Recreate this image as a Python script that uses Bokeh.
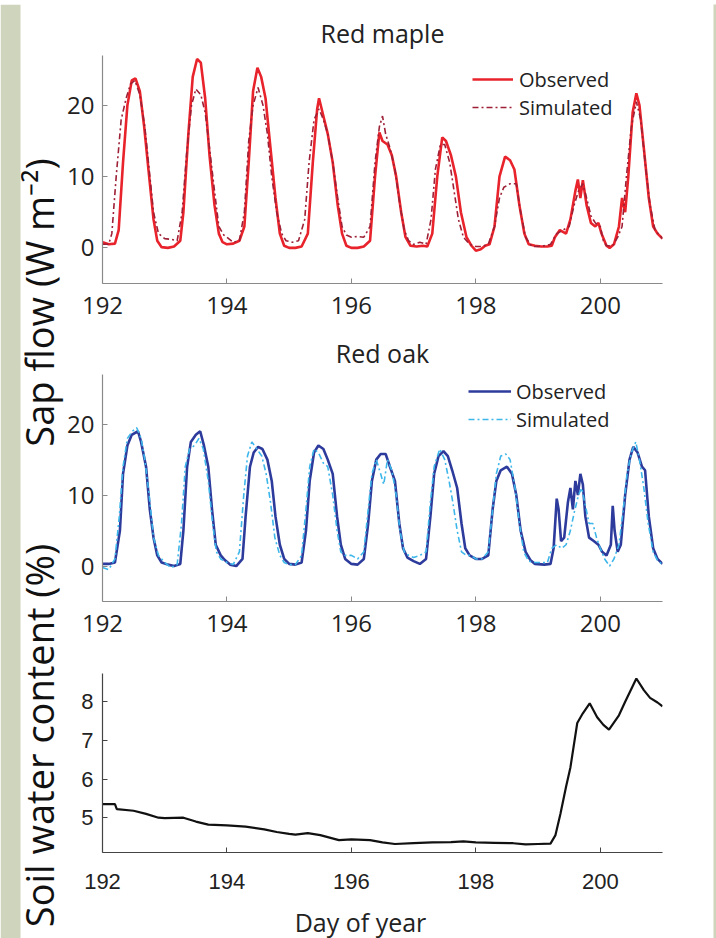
import math
from bokeh.plotting import figure
from bokeh.layouts import row, column
from bokeh.models import Range1d, FixedTicker, Legend, LegendItem, BoxAnnotation
from bokeh.core.properties import value
from bokeh.embed import file_html
from bokeh.resources import INLINE

# ---------------- data (day of year, value) ----------------
maple_observed = [
    (192.00, 0.8), (192.10, 0.5), (192.20, 0.6), (192.26, 2.5), (192.33, 12), (192.40, 20), (192.47, 23.5),
    (192.53, 23.8), (192.60, 22), (192.67, 17), (192.75, 10), (192.82, 4), (192.88, 1), (192.95, 0.1),
    (193.05, 0), (193.15, 0.2), (193.25, 1), (193.30, 5), (193.38, 16), (193.45, 24), (193.52, 26.5),
    (193.58, 26), (193.65, 21), (193.72, 13), (193.80, 6), (193.87, 2), (193.93, 0.8), (194.00, 0.5),
    (194.10, 0.6), (194.20, 1), (194.28, 3), (194.35, 12), (194.42, 22), (194.49, 25.3), (194.55, 24),
    (194.62, 21), (194.70, 14), (194.78, 7), (194.85, 2), (194.92, 0.3), (195.00, 0), (195.10, 0),
    (195.20, 0.2), (195.30, 2), (195.38, 12), (195.45, 19.5), (195.48, 21), (195.55, 18.5), (195.62, 16),
    (195.70, 12), (195.78, 6), (195.85, 2), (195.92, 0.3), (196.00, 0), (196.10, 0), (196.20, 0.2),
    (196.30, 1), (196.38, 10), (196.45, 16.2), (196.50, 15), (196.58, 14.5), (196.65, 13), (196.72, 10),
    (196.80, 5), (196.87, 1.5), (196.95, 0.3), (197.05, 0.2), (197.15, 0.3), (197.22, 0.2), (197.30, 2),
    (197.38, 10), (197.46, 15.5), (197.52, 15), (197.60, 13), (197.68, 10), (197.76, 5), (197.85, 1.5),
    (197.93, 0.3), (198.00, -0.4), (198.08, -0.2), (198.15, 0.3), (198.22, 0.5), (198.30, 3), (198.38, 10),
    (198.47, 12.8), (198.55, 12.3), (198.62, 11), (198.70, 6), (198.78, 2), (198.85, 0.5), (198.95, 0.3),
    (199.05, 0.2), (199.15, 0.2), (199.22, 0.3), (199.27, 1.5), (199.35, 2.5), (199.45, 2), (199.52, 4),
    (199.60, 8), (199.64, 9.6), (199.68, 7), (199.72, 9.5), (199.78, 6), (199.85, 3.5), (199.92, 3),
    (199.97, 3.5), (200.02, 2), (200.10, 0.3), (200.15, 0), (200.22, 0.5), (200.30, 3), (200.35, 7),
    (200.40, 5), (200.45, 10), (200.52, 19), (200.58, 21.7), (200.63, 20), (200.70, 14), (200.78, 7),
    (200.85, 3), (200.92, 2), (201.00, 1.3),
]

maple_simulated = [
    (192.00, 0.5), (192.10, 0.5), (192.15, 2), (192.22, 10), (192.30, 18), (192.38, 21), (192.45, 23),
    (192.52, 23.5), (192.60, 21.5), (192.68, 17), (192.75, 11), (192.82, 5), (192.90, 2), (193.00, 1.3),
    (193.10, 1.2), (193.20, 1), (193.28, 5), (193.35, 13), (193.43, 20), (193.50, 22.3), (193.58, 21.5),
    (193.65, 19), (193.72, 14), (193.80, 8), (193.87, 3), (193.95, 1.8), (194.00, 1.5), (194.10, 0.8),
    (194.20, 1), (194.28, 5), (194.35, 15), (194.42, 20), (194.50, 22.5), (194.58, 20), (194.65, 16),
    (194.72, 10), (194.80, 5), (194.88, 2), (194.95, 1), (195.05, 0.8), (195.15, 1), (195.25, 4),
    (195.32, 12), (195.40, 18), (195.48, 19.5), (195.55, 18), (195.62, 16), (195.70, 12), (195.78, 7),
    (195.85, 3), (195.92, 1.8), (196.00, 1.5), (196.10, 1.6), (196.20, 1.5), (196.30, 3), (196.38, 12),
    (196.45, 17), (196.50, 18.5), (196.55, 16), (196.62, 14), (196.70, 11), (196.78, 6), (196.85, 2.5),
    (196.92, 1), (197.00, 0.5), (197.10, 0.8), (197.20, 0.5), (197.28, 4), (197.35, 11), (197.43, 14.5),
    (197.50, 14.5), (197.58, 12), (197.65, 8), (197.72, 4), (197.80, 1.5), (197.90, 0.5), (198.00, 0.2),
    (198.10, 0.2), (198.20, 0.5), (198.30, 3), (198.38, 7), (198.45, 8.5), (198.55, 9), (198.65, 9),
    (198.72, 5), (198.80, 1.5), (198.90, 0.2), (199.00, 0.2), (199.10, 0.3), (199.20, 0.5), (199.30, 2),
    (199.40, 2.5), (199.50, 3), (199.58, 6), (199.65, 8), (199.72, 9), (199.78, 7), (199.85, 4.5),
    (199.92, 3.5), (200.00, 3), (200.05, 1), (200.10, 0.3), (200.20, 0.3), (200.28, 1.5), (200.35, 3),
    (200.42, 10), (200.50, 17), (200.58, 20.5), (200.65, 18), (200.72, 12), (200.80, 6), (200.88, 2.5),
    (200.95, 1.8), (201.00, 1.3),
]

oak_observed = [
    (192.00, 0.3), (192.10, 0.3), (192.20, 0.5), (192.28, 5), (192.33, 13), (192.40, 17), (192.47, 18.5),
    (192.57, 19), (192.62, 17.5), (192.70, 14), (192.76, 8), (192.82, 4), (192.88, 1.5), (192.95, 0.5),
    (193.05, 0.2), (193.15, 0), (193.25, 0.3), (193.30, 5), (193.36, 14), (193.42, 17.5), (193.50, 18.5),
    (193.57, 19), (193.63, 17), (193.70, 14), (193.76, 8), (193.82, 3), (193.90, 1.5), (193.97, 0.8),
    (194.05, 0.2), (194.15, 0), (194.25, 1), (194.30, 7), (194.37, 14), (194.43, 16), (194.50, 16.8),
    (194.57, 16.5), (194.65, 15), (194.72, 12), (194.78, 7), (194.85, 3), (194.92, 1), (195.00, 0.3),
    (195.10, 0.2), (195.20, 0.5), (195.27, 5), (195.33, 12), (195.40, 16), (195.47, 17), (195.55, 16.5),
    (195.62, 15), (195.70, 13), (195.77, 7), (195.83, 3), (195.90, 1), (196.00, 0.3), (196.10, 0.2),
    (196.20, 1), (196.27, 6), (196.33, 12), (196.40, 15), (196.47, 15.8), (196.55, 15.8), (196.62, 14),
    (196.70, 12), (196.77, 6), (196.83, 2.5), (196.90, 1.2), (197.00, 0.7), (197.10, 0.3), (197.20, 1),
    (197.27, 7), (197.33, 13), (197.40, 15.5), (197.48, 16.2), (197.55, 15.5), (197.62, 13.5), (197.70, 11),
    (197.77, 6), (197.83, 2.5), (197.90, 1.5), (198.00, 1), (198.10, 1), (198.20, 1.5), (198.27, 8),
    (198.33, 12), (198.40, 13.5), (198.50, 14), (198.58, 13), (198.65, 10), (198.72, 5), (198.80, 2),
    (198.88, 0.8), (198.95, 0.3), (199.10, 0.2), (199.20, 0.3), (199.25, 2.5), (199.30, 9.5), (199.33, 8),
    (199.37, 3.5), (199.42, 4), (199.48, 9), (199.52, 11), (199.56, 8), (199.60, 12), (199.64, 10),
    (199.68, 13), (199.72, 11.5), (199.76, 7), (199.82, 4), (199.90, 3.5), (199.97, 3), (200.03, 2),
    (200.10, 1.5), (200.17, 3), (200.20, 8.5), (200.23, 5), (200.28, 2), (200.33, 3), (200.40, 10),
    (200.47, 15), (200.53, 16.8), (200.60, 16), (200.67, 14), (200.72, 13.5), (200.78, 7), (200.85, 2.5),
    (200.92, 1), (201.00, 0.3),
]

oak_simulated = [
    (192.00, -0.2), (192.10, -0.5), (192.20, 1), (192.27, 7), (192.33, 14), (192.40, 18), (192.48, 19),
    (192.55, 19.5), (192.62, 18), (192.68, 15), (192.75, 10), (192.82, 4), (192.90, 1.5), (193.00, 0.5),
    (193.10, -0.2), (193.20, 0.2), (193.27, 6), (193.33, 14), (193.40, 16.5), (193.48, 17), (193.55, 18),
    (193.62, 16.5), (193.70, 12), (193.77, 6), (193.83, 2), (193.90, 1), (194.00, 0.5), (194.10, 0.2),
    (194.20, 2), (194.27, 10), (194.33, 15.5), (194.40, 17.5), (194.48, 16.5), (194.56, 15.5), (194.63, 13),
    (194.70, 9), (194.77, 4), (194.85, 1.5), (194.92, 0.5), (195.00, 0.2), (195.10, 0.2), (195.20, 1.5),
    (195.27, 8), (195.33, 14), (195.40, 16.5), (195.47, 16), (195.55, 14.5), (195.62, 14), (195.70, 10),
    (195.77, 5), (195.83, 2), (195.90, 1.5), (196.00, 1.5), (196.10, 1), (196.20, 2), (196.27, 8),
    (196.33, 13), (196.40, 15), (196.47, 13), (196.52, 11.5), (196.58, 15), (196.65, 13.5), (196.72, 10),
    (196.78, 5), (196.85, 2), (196.92, 1.5), (197.00, 1.2), (197.10, 1.5), (197.20, 2), (197.27, 9),
    (197.33, 14), (197.42, 16.5), (197.50, 15), (197.57, 12), (197.63, 9), (197.70, 5), (197.77, 2),
    (197.85, 1.5), (197.92, 1.5), (198.00, 1), (198.10, 1), (198.20, 2), (198.27, 8), (198.33, 13),
    (198.40, 15.5), (198.48, 15.8), (198.55, 15), (198.63, 11), (198.70, 6), (198.77, 2), (198.85, 0.7),
    (198.95, 0.5), (199.05, 0.5), (199.15, 0.5), (199.22, 2.5), (199.30, 3), (199.38, 2.5), (199.45, 3),
    (199.52, 5), (199.58, 7.5), (199.65, 10), (199.70, 11), (199.75, 9), (199.82, 6), (199.88, 6),
    (199.94, 4), (200.00, 2.5), (200.07, 1), (200.15, 0), (200.22, 1), (200.30, 3), (200.37, 8),
    (200.43, 13), (200.50, 16), (200.57, 17.5), (200.63, 15), (200.70, 11), (200.77, 6), (200.85, 2),
    (200.92, 0.8), (201.00, 0.2),
]

soil_water = [
    (192.00, 5.35), (192.20, 5.35), (192.23, 5.22), (192.50, 5.18), (192.70, 5.10), (192.90, 5.00),
    (193.00, 4.99), (193.30, 5.00), (193.50, 4.90), (193.70, 4.82), (194.00, 4.80), (194.30, 4.77),
    (194.60, 4.70), (194.80, 4.63), (195.00, 4.58), (195.10, 4.56), (195.30, 4.60), (195.50, 4.55),
    (195.80, 4.42), (196.00, 4.44), (196.30, 4.42), (196.50, 4.36), (196.70, 4.32), (197.00, 4.34),
    (197.30, 4.36), (197.60, 4.37), (197.80, 4.39), (198.00, 4.36), (198.30, 4.35), (198.60, 4.34),
    (198.80, 4.31), (199.00, 4.32), (199.20, 4.33), (199.28, 4.55), (199.36, 5.10), (199.45, 5.80),
    (199.52, 6.30), (199.63, 7.45), (199.72, 7.70), (199.83, 7.96), (199.95, 7.60), (200.05, 7.40),
    (200.14, 7.28), (200.30, 7.65), (200.40, 8.00), (200.58, 8.60), (200.70, 8.30), (200.80, 8.10),
    (200.92, 7.98), (201.00, 7.88),
]

day_ticks = [192, 194, 196, 198, 200]
sap_ticks = [0, 10, 20]
soil_ticks = [5, 6, 7, 8]
legend_labels = ["Observed", "Simulated"]
panel_titles = ["Red maple", "Red oak"]
y_labels = ["Sap flow (W m\u207b\u00b2)", "Soil water content (%)"]
x_label = "Day of year"

# ---------------- styling ----------------
PAGE_BG = "#cfd4bd"
MAPLE_OBS = "#e8232b"
MAPLE_SIM = "#9e2036"
OAK_OBS = "#2d3b9c"
OAK_SIM = "#3db6ea"
TXT = "#222222"
FONT = "Open Sans"
SIM_DASH = "6 3 2 3"
LAB_W = 64
PANEL_W = 716 - LAB_W - 3
SAP_LEFT = 102 - LAB_W
SOIL_LEFT = 94 - LAB_W
XLAB_H = 33


def xs(series):
    return [d for d, v in series]


def ys(series):
    return [v for d, v in series]


def bare(width, height, color, x_range=None, y_range=None):
    kw = {}
    if x_range is not None:
        kw["x_range"] = x_range
        kw["y_range"] = y_range
    f = figure(width=width, height=height, toolbar_location=None, output_backend="svg",
               min_border_left=0, min_border_right=0, min_border_top=0, min_border_bottom=0, **kw)
    f.axis.visible = False
    f.grid.visible = False
    f.outline_line_color = None
    f.background_fill_color = color
    f.border_fill_color = color
    return f


def panel(height, left, right, top, bottom, yr, xticks, yticks, font, size, axis_color, xstand, ystand):
    p = figure(width=PANEL_W, height=height, x_range=Range1d(192, 201), y_range=Range1d(*yr),
               toolbar_location=None, output_backend="svg",
               min_border_left=left, min_border_right=right,
               min_border_top=top, min_border_bottom=bottom)
    p.grid.visible = False
    p.outline_line_color = None
    p.background_fill_color = "white"
    p.border_fill_color = "white"
    p.xaxis.ticker = FixedTicker(ticks=xticks)
    p.yaxis.ticker = FixedTicker(ticks=yticks)
    for ax in (p.xaxis, p.yaxis):
        ax.axis_line_color = axis_color
        ax.axis_line_width = 1.2
        ax.major_tick_line_color = axis_color
        ax.major_tick_in = 5
        ax.major_tick_out = 0
        ax.minor_tick_line_color = None
        ax.major_label_text_font = font
        ax.major_label_text_font_size = size
        ax.major_label_text_color = TXT
    p.xaxis.major_label_standoff = xstand
    p.yaxis.major_label_standoff = ystand
    return p


def set_title(p, text, standoff):
    p.title.text = text
    p.title.align = "center"
    p.title.text_font = FONT
    p.title.text_font_size = "25px"
    p.title.text_font_style = "normal"
    p.title.text_color = TXT
    p.title.standoff = standoff


def add_legend(p, r_obs, r_sim, loc, gw, standoff):
    leg = Legend(items=[LegendItem(label=legend_labels[0], renderers=[r_obs]),
                        LegendItem(label=legend_labels[1], renderers=[r_sim])],
                 location=loc, orientation="vertical",
                 border_line_color=None, background_fill_alpha=0,
                 padding=0, margin=0, spacing=0,
                 glyph_width=gw, glyph_height=28, label_height=28,
                 label_standoff=standoff,
                 label_text_font=FONT, label_text_font_size="20px",
                 label_text_color=TXT)
    p.add_layout(leg)


# ---- left label strip (page x 0..64, y 4..938) ----
lab = bare(LAB_W, 934, "white", Range1d(0, LAB_W), Range1d(934, 0))
lab.add_layout(BoxAnnotation(left=0, right=20, fill_color=PAGE_BG, fill_alpha=1, line_color=None))
lab.text(x=[38, 38], y=[298, 731], text=y_labels,
         angle=math.pi / 2, text_align="center", text_baseline="middle",
         text_font=value(FONT), text_font_size="38px", text_color="#111111")

# ---- Red maple (page y 4..329) ----
p1 = panel(325, SAP_LEFT, PANEL_W - SAP_LEFT - 566, 51, 46, (-5, 27), day_ticks, sap_ticks, FONT,
           "24px", "#8a8a8a", 13, 8)
r1 = p1.line(xs(maple_observed), ys(maple_observed), line_color=MAPLE_OBS, line_width=2.6)
r2 = p1.line(xs(maple_simulated), ys(maple_simulated), line_color=MAPLE_SIM, line_width=1.6,
             line_dash=SIM_DASH)
add_legend(p1, r1, r2, (370, 162), 41, 6)
set_title(p1, panel_titles[0], 12)

# ---- Red oak (page y 329..648) ----
p2 = panel(319, SAP_LEFT, PANEL_W - SAP_LEFT - 566, 44, 47, (-5, 27), day_ticks, sap_ticks, FONT,
           "24px", "#8a8a8a", 13, 8)
r3 = p2.line(xs(oak_observed), ys(oak_observed), line_color=OAK_OBS, line_width=2.6)
r4 = p2.line(xs(oak_simulated), ys(oak_simulated), line_color=OAK_SIM, line_width=1.6,
             line_dash=SIM_DASH)
add_legend(p2, r3, r4, (366, 168), 43, 5)
set_title(p2, panel_titles[1], 9)

# ---- Soil water (page y 648..905) ----
p3 = panel(257, SOIL_LEFT, PANEL_W - SOIL_LEFT - 568, 25, 53, (4.1, 8.73), day_ticks, soil_ticks,
           "Liberation Sans", "22px", "#444444", 21, 9)
p3.line(xs(soil_water), ys(soil_water), line_color="#111111", line_width=2.2)

# ---- x-axis title strip (page y 905..938) ----
xlab = bare(PANEL_W, XLAB_H, "white", Range1d(0, PANEL_W), Range1d(XLAB_H, 0))
xlab.text(x=[363 - LAB_W], y=[XLAB_H / 2], text=[x_label], text_align="center", text_baseline="middle",
          text_font=value(FONT), text_font_size="25px", text_color=TXT)

top_strip = bare(716, 4, PAGE_BG)
right_strip = bare(3, 934, PAGE_BG)

layout = column(top_strip, row(lab, column(p1, p2, p3, xlab), right_strip))

open("out.html", "w").write(file_html(layout, INLINE))
